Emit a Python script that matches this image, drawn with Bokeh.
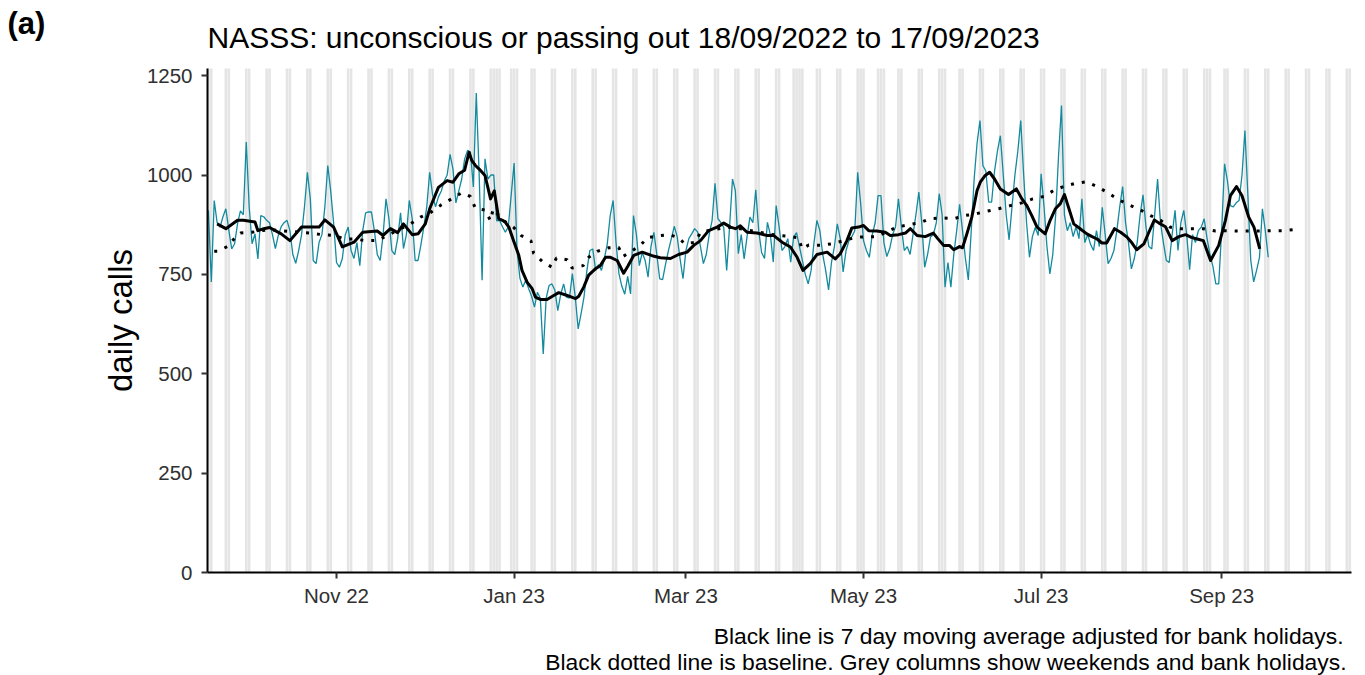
import pandas as pd
from bokeh.plotting import figure
from bokeh.models import Range1d, FixedTicker, Label, LinearAxis, DatetimeAxis
from bokeh.embed import file_html
from bokeh.resources import INLINE

# ---------------- data ----------------
start_date = "2022-09-18"
grey_end_date = "2023-10-15"

daily_calls = [
    911, 731, 936, 880, 869, 895, 915, 862, 814, 827,
    877, 910, 900, 1083, 920, 827, 852, 789, 898, 895,
    886, 880, 850, 815, 848, 870, 880, 886, 860, 800,
    778, 810, 850, 920, 1007, 940, 785, 777, 830, 850,
    920, 1024, 960, 880, 780, 768, 790, 850, 869, 810,
    790, 830, 772, 860, 905, 907, 907, 860, 800, 785,
    850, 940, 890, 810, 800, 840, 905, 815, 850, 936,
    890, 785, 785, 825, 870, 920, 1007, 950, 920, 945,
    960, 985, 1000, 1052, 1015, 930, 960, 990, 1040, 1062,
    1058, 970, 1206, 1000, 735, 1041, 990, 1000, 1000, 885,
    886, 870, 856, 870, 950, 1030, 810, 740, 718, 735,
    714, 695, 668, 705, 690, 550, 690, 722, 726, 710,
    659, 700, 726, 693, 690, 752, 693, 613, 651, 693,
    760, 810, 814, 760, 775, 760, 790, 827, 898, 936,
    830, 752, 720, 700, 745, 701, 898, 850, 772, 805,
    785, 743, 820, 856, 800, 739, 737, 775, 810, 840,
    871, 845, 789, 739, 810, 840, 852, 865, 857, 820,
    777, 800, 850, 886, 979, 890, 881, 868, 760, 870,
    990, 960, 802, 850, 789, 845, 894, 880, 963, 860,
    805, 790, 881, 850, 781, 923, 870, 810, 820, 840,
    781, 844, 855, 820, 785, 750, 726, 760, 830, 886,
    860, 800, 760, 711, 780, 820, 877, 840, 756, 810,
    835, 845, 860, 1007, 930, 835, 810, 793, 850, 880,
    948, 948, 830, 795, 815, 850, 870, 940, 870, 810,
    820, 800, 850, 900, 957, 880, 768, 800, 844, 850,
    880, 953, 900, 718, 780, 718, 800, 860, 926, 860,
    790, 736, 860, 990, 1080, 1137, 1024, 1010, 932, 932,
    1010, 1060, 1099, 1000, 900, 837, 920, 1000, 1060, 1137,
    1000, 880, 793, 845, 868, 848, 1003, 920, 820, 751,
    800, 900, 1050, 1175, 900, 860, 880, 845, 870, 840,
    940, 830, 850, 825, 810, 860, 820, 919, 850, 777,
    790, 810, 860, 920, 971, 880, 830, 764, 790, 830,
    900, 950, 870, 820, 814, 900, 990, 880, 830, 785,
    780, 850, 911, 810, 880, 911, 850, 762, 850, 830,
    860, 869, 890, 840, 800, 770, 726, 726, 860, 1028,
    985, 923, 920, 930, 936, 1000, 1112, 950, 785, 731,
    760, 793, 915, 860, 793,
]

# 7 day moving average (day offset from start, value)
ma_day = [3, 6, 10, 12, 16, 17, 19, 21, 25, 28, 32, 36, 38, 40, 43, 46, 50, 53, 58, 60,
          62.5, 65, 67, 70, 72, 74.5, 76, 79, 82, 84, 86, 88, 89.5, 90.5, 91.7, 93, 95, 96.9, 98.2, 99.7,
          101, 102, 103.2, 104.9, 106.6, 107.7, 109.5, 111.2, 112.3, 114, 116.3, 118.6, 120.3, 123.2, 126.1, 127.2, 128.9, 130.6, 132.9, 134.6,
          136.4, 138.1, 140.4, 142.6, 144, 146.1, 149, 152.4, 155.2, 158.7, 161.5, 164.4, 166.7, 169, 171.8, 174.7, 177, 179.3, 181, 182.7,
          185, 188.4, 191.9, 194.1, 197, 199.9, 202.2, 204.2, 206.7, 209, 212.5, 215.3, 217, 219.3, 221, 223.3, 225, 226.8, 229.6, 232.5,
          234.2, 237, 239.4, 241.1, 243.4, 246.2, 249, 250.5, 252.5, 254.5, 256, 258, 259, 260.5, 262.2, 264, 265.1, 266.8, 268.3, 270,
          272, 274.8, 277.5, 279.4, 281.1, 282.8, 284.6, 287.4, 289.1, 290.9, 292.6, 294, 295.4, 297.2, 299.4, 301.7, 303.5, 305.2, 306.9, 308.5,
          311.2, 313.3, 315.6, 317, 318.8, 321.3, 323, 324.9, 326.5, 328.7, 331, 333.3, 335.6, 337.6, 339.6, 341.7, 344.2, 347, 349.3, 351,
          353.1, 355, 357.3, 359.1, 361.1]
ma_val = [877, 865, 886, 886, 882, 860, 865, 868, 852, 835, 869, 869, 869, 887, 869, 819, 831, 856, 859, 848,
          865, 855, 877, 850, 852, 877, 915, 969, 986, 982, 1003, 1012, 1057, 1036, 1024, 1015, 999, 940, 960, 890,
          886, 881, 869, 833, 798, 760, 730, 714, 693, 687, 687, 697, 704, 697, 689, 695, 718, 748, 764, 772,
          793, 793, 785, 753, 770, 798, 806, 797, 792, 790, 800, 806, 823, 835, 860, 869, 879, 869, 865, 872,
          856, 854, 848, 848, 831, 819, 793, 760, 777, 800, 806, 789, 802, 835, 867, 869, 873, 860, 859, 856,
          848, 850, 854, 865, 848, 845, 854, 840, 823, 823, 812, 820, 817, 852, 894, 961, 982, 999, 1007, 990,
          965, 951, 965, 940, 923, 898, 869, 852, 886, 915, 928, 951, 919, 877, 865, 852, 845, 839, 829, 829,
          865, 856, 843, 831, 812, 827, 856, 887, 879, 870, 835, 845, 850, 843, 839, 835, 785, 823, 886, 948,
          971, 948, 894, 869, 814]

# baseline (day offset from start, value)
base_day = [2, 3.2, 6.5, 8.5, 11, 15, 18, 22, 28, 35, 39, 43, 47, 50, 54, 58, 62, 66, 69, 72.8,
            76, 80, 83.5, 87, 90, 91.7, 95, 96.9, 97.8, 101, 104.7, 107.4, 110.8, 111.7, 114.6, 118, 119.5, 123.2, 124.9, 128.7,
            130.6, 133.5, 137.5, 140.9, 142.4, 148.4, 150.7, 154.7, 158.4, 161.5, 163.6, 167.3, 169, 173, 176.5, 180.2, 184.4, 188, 192, 196,
            199, 202.7, 203.9, 206.2, 210.2, 214.2, 218.2, 222.2, 226.2, 229.6, 233, 236.5, 240.5, 244.5, 247.7, 252, 256, 259.7, 263.4, 267.4,
            271.4, 275.4, 279.4, 283.1, 286.9, 290.3, 293.7, 297.7, 301.4, 305.2, 308.6, 312.1, 316.1, 319.9, 323.6, 327, 330.2, 333.9, 337.9, 341.7,
            345.9, 349.7, 353.3, 357.3, 361.3, 365.4, 369.4, 373.4, 375]
base_val = [808, 808, 820, 837, 854, 856, 860, 862, 858, 854, 850, 848, 839, 839, 835, 835, 850, 865, 875, 894,
            904, 925, 940, 955, 946, 916, 912, 885, 915, 887, 869, 848, 834, 803, 783, 768, 791, 787, 766, 772,
            793, 808, 817, 818, 795, 823, 842, 847, 850, 842, 827, 831, 856, 862, 866, 869, 862, 858, 852, 848,
            846, 842, 814, 824, 823, 827, 835, 843, 845, 845, 857, 869, 875, 880, 890, 892, 890, 898, 902, 909,
            915, 923, 930, 940, 946, 961, 971, 979, 983, 971, 957, 940, 925, 913, 898, 886, 869, 865, 865, 865,
            859, 860, 859, 859, 859, 860, 860, 863, 863]

bank_holidays = ["2022-09-19", "2022-12-26", "2022-12-27", "2023-01-02", "2023-04-07",
                 "2023-04-10", "2023-05-01", "2023-05-08", "2023-05-29", "2023-08-28"]

y_ticks = [0, 250, 500, 750, 1000, 1250]
y_max = 1268
x_tick_dates = ["2022-11-01", "2023-01-01", "2023-03-01", "2023-05-01", "2023-07-01", "2023-09-01"]
x_tick_labels = ["Nov 22", "Jan 23", "Mar 23", "May 23", "Jul 23", "Sep 23"]

title_text = "NASSS: unconscious or passing out 18/09/2022 to 17/09/2023"
panel_tag = "(a)"
caption_1 = "Black line is 7 day moving average adjusted for bank holidays."
caption_2 = "Black dotted line is baseline. Grey columns show weekends and bank holidays."

# ---------------- geometry helpers ----------------
t0 = pd.Timestamp(start_date)
DAY_MS = 86400000.0
FONT = "Liberation Sans"
W, H = 1365, 675
PANEL_L, PANEL_R, PANEL_T, PANEL_B = 207, 1351, 68, 572   # panel box in page pixels
D_LEFT, D_RIGHT = -0.31, 392.6                            # panel x extent in days
PX_PER_DAY = (PANEL_R - PANEL_L) / (D_RIGHT - D_LEFT)
PX_PER_UNIT = (PANEL_B - PANEL_T) / y_max


def ms(ts):
    return pd.Timestamp(ts).value / 1e6


def day_ms(d):
    return ms(t0) + d * DAY_MS


def X(px):
    return day_ms(D_LEFT + (px - PANEL_L) / PX_PER_DAY)


def Y(row):
    return (PANEL_B - row) / PX_PER_UNIT


daily_x = [t0 + pd.Timedelta(days=i) for i in range(len(daily_calls))]
ma_x = [day_ms(d) for d in ma_day]
base_x = [day_ms(d) for d in base_day]

bh = set(pd.to_datetime(bank_holidays))
all_days = pd.date_range(start_date, grey_end_date, freq="D")
grey_days = [d for d in all_days if d.weekday() >= 5 or d in bh]

# the frame covers the whole canvas; the panel is bounded by the axes
p = figure(width=W, height=H, x_axis_type="datetime",
           output_backend="svg", toolbar_location=None, title_location=None,
           x_axis_location=None, y_axis_location=None,
           x_range=Range1d(X(0), X(W)), y_range=Range1d(Y(H), Y(0)),
           min_border_left=0, min_border_right=0, min_border_top=0, min_border_bottom=0)
p.outline_line_color = None
p.grid.visible = False
p.background_fill_color = "white"
p.border_fill_color = "white"

p.vbar(x=grey_days, width=0.9 * DAY_MS, bottom=0, top=y_max,
       fill_color="#e5e5e5", line_color=None)

p.line(daily_x, daily_calls, line_color="#138a9e", line_width=1.3)
p.line(ma_x, ma_val, line_color="black", line_width=3, line_join="round")
p.line(base_x, base_val, line_color="black", line_width=3, line_dash="3 8")

xaxis = DatetimeAxis(fixed_location=0, bounds=(day_ms(D_LEFT), day_ms(D_RIGHT)))
yaxis = LinearAxis(fixed_location=day_ms(D_LEFT), bounds=(0, y_max))
p.add_layout(xaxis, "below")
p.add_layout(yaxis, "left")

for ax in (xaxis, yaxis):
    ax.axis_line_color = "black"
    ax.axis_line_width = 2
    ax.major_tick_line_color = "#333333"
    ax.major_tick_line_width = 2
    ax.major_tick_in = 0
    ax.major_tick_out = 6
    ax.minor_tick_line_color = None
    ax.major_label_text_font = FONT
    ax.major_label_text_font_size = "20.5px"
    ax.major_label_text_color = "#303030"

yaxis.ticker = FixedTicker(ticks=y_ticks)
yaxis.major_label_standoff = 9
yaxis.axis_label = "daily calls"
yaxis.axis_label_text_font = FONT
yaxis.axis_label_text_font_size = "33px"
yaxis.axis_label_text_font_style = "normal"
yaxis.axis_label_text_color = "black"
yaxis.axis_label_standoff = 5

xt = [ms(d) for d in x_tick_dates]
xaxis.ticker = FixedTicker(ticks=xt)
xaxis.major_label_overrides = {t: lab for t, lab in zip(xt, x_tick_labels)}
xaxis.major_label_standoff = 5

# texts (anchor rows tuned so the glyphs land where the reference has them)
p.add_layout(Label(x=X(7), y=Y(23), text=panel_tag, text_font=FONT, text_font_size="31px",
                   text_font_style="bold", text_color="black",
                   text_align="left", text_baseline="alphabetic"))
p.add_layout(Label(x=X(207), y=Y(37), text=title_text, text_font=FONT, text_font_size="30px",
                   text_color="black", text_align="left", text_baseline="alphabetic"))
p.add_layout(Label(x=X(1343), y=Y(635), text=caption_1, text_font=FONT, text_font_size="22.85px",
                   text_color="black", text_align="right", text_baseline="alphabetic"))
p.add_layout(Label(x=X(1346), y=Y(661), text=caption_2, text_font=FONT, text_font_size="22.85px",
                   text_color="black", text_align="right", text_baseline="alphabetic"))

open("out.html", "w").write(file_html(p, INLINE))
